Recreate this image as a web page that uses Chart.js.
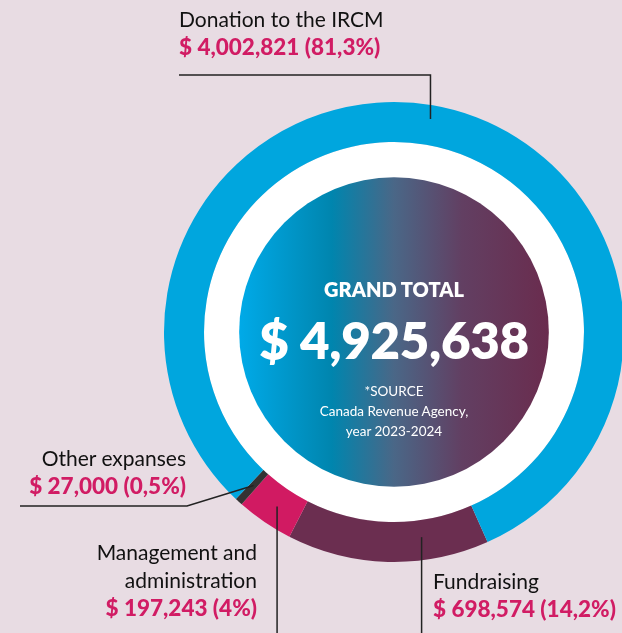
<!DOCTYPE html>
<html>
<head>
<meta charset="utf-8">
<script src="https://cdn.jsdelivr.net/npm/chart.js@4.4.1/dist/chart.umd.min.js"></script>
<style>
  html, body { margin: 0; padding: 0; background: #e8dce3; overflow: hidden; }
  #wrap { position: relative; width: 622px; height: 633px; overflow: hidden; font-family: "Lato", "Open Sans", sans-serif; }
  canvas { position: absolute; left: 0; top: 0; }
  .lbl { position: absolute; color: #111; font-size: 21px; line-height: 28px; white-space: nowrap; }
  .lbl .amt { color: #d11c64; font-weight: 900; font-size: 22.5px; }
  .right { text-align: right; }
  #center { position: absolute; left: 244px; width: 300px; top: 276px; text-align: center; color: #fff; }
  #center .title { font-weight: 800; font-size: 20px; line-height: 26px; }
  #center .total { font-weight: 800; font-size: 51px; line-height: 62px; margin-top: 7px; letter-spacing: -0.3px; }
  #center .src { font-size: 13.5px; line-height: 20px; margin-top: 10px; }
</style>
</head>
<body>
<div id="wrap">
  <canvas id="donut" width="640" height="633"></canvas>
  <div id="labels"></div>
  <div id="center">
    <div class="title">GRAND TOTAL</div>
    <div class="total" id="grand"></div>
    <div class="src">*SOURCE<br>Canada Revenue Agency,<br>year 2023-2024</div>
  </div>
</div>
<script>
// Expense breakdown, 2023-2024
const categories = ['Fundraising', 'Management and administration', 'Other expanses', 'Donation to the IRCM'];
const amounts = [698574, 197243, 27000, 4002821];
const shares = ['14,2%', '4%', '0,5%', '81,3%'];

const sliceColors = ['#6b2e50', '#d11a62', '#333333', '#00a6de'];

const fmt = n => n.toLocaleString('en-US');
const total = amounts.reduce((a, b) => a + b, 0);
document.getElementById('grand').textContent = '$ ' + fmt(total);

// label boxes: left/top or right/top, and how the title wraps
const labelBoxes = [
    { i: 0, style: 'left:433px;top:567px;', lines: ['Fundraising'] },
    { i: 1, style: 'right:365px;top:538px;', cls: 'right', lines: ['Management and', 'administration'] },
    { i: 2, style: 'right:436px;top:444px;', cls: 'right', lines: ['Other expanses'] },
    { i: 3, style: 'left:179px;top:5px;', lines: ['Donation to the IRCM'] }
];
document.getElementById('labels').innerHTML = labelBoxes.map(b =>
    `<div class="lbl ${b.cls || ''}" style="${b.style}">${b.lines.join('<br>')}<br>` +
    `<span class="amt">$ ${fmt(amounts[b.i])} (${shares[b.i]})</span></div>`
).join('');

// inner white ring + gradient disc
const centerDisc = {
    id: 'centerDisc',
    beforeDatasetsDraw(chart) {
        const arc = chart.getDatasetMeta(0).data[0];
        const { x, y, innerRadius } = arc.getProps(['x', 'y', 'innerRadius'], true);
        const ctx = chart.ctx;
        ctx.save();
        ctx.fillStyle = '#ffffff';
        ctx.beginPath();
        ctx.arc(x, y, innerRadius, 0, Math.PI * 2);
        ctx.fill();
        const r = innerRadius * 0.815;
        const g = ctx.createLinearGradient(x - r, 0, x + r, 0);
        g.addColorStop(0, '#00aae8');
        g.addColorStop(0.3, '#0085ae');
        g.addColorStop(0.5, '#4a6787');
        g.addColorStop(0.72, '#623f62');
        g.addColorStop(1, '#6a2c4e');
        ctx.fillStyle = g;
        ctx.beginPath();
        ctx.arc(x, y, r, 0, Math.PI * 2);
        ctx.fill();
        ctx.restore();
    }
};

// leader lines from each slice out to its label
const leaders = [
    { i: 0, frac: 0.32, r: 207, path: a => [[a.x, a.y], [a.x, 640]] },
    { i: 1, frac: 0.47, r: 210, path: a => [[a.x, a.y], [a.x, 640]] },
    { i: 2, frac: 0.5, r: 208, path: a => [[a.x, a.y], [187, 506], [20, 506]] },
    { i: 3, frac: 0.5, r: 216, path: a => [[a.x, a.y], [a.x, 75], [179, 75]] }
];
const leaderLines = {
    id: 'leaderLines',
    afterDatasetsDraw(chart) {
        const meta = chart.getDatasetMeta(0);
        const ctx = chart.ctx;
        ctx.save();
        ctx.strokeStyle = '#222';
        ctx.lineWidth = 1.5;
        leaders.forEach(l => {
            const p = meta.data[l.i].getProps(['x', 'y', 'startAngle', 'endAngle'], true);
            const ang = p.startAngle + l.frac * (p.endAngle - p.startAngle);
            const anchor = { x: p.x + l.r * Math.cos(ang), y: p.y + l.r * Math.sin(ang) };
            const pts = l.path(anchor);
            ctx.beginPath();
            ctx.moveTo(pts[0][0], pts[0][1]);
            pts.slice(1).forEach(q => ctx.lineTo(q[0], q[1]));
            ctx.stroke();
        });
        ctx.restore();
    }
};

new Chart(document.getElementById('donut'), {
    type: 'doughnut',
    data: {
        labels: categories,
        datasets: [{ data: amounts, backgroundColor: sliceColors, borderWidth: 0 }]
    },
    options: {
        responsive: false,
        animation: false,
        rotation: 156,
        cutout: '82.6%',
        layout: { padding: { left: 164, right: 16, top: 102, bottom: 71 } },
        events: [],
        plugins: { legend: { display: false }, tooltip: { enabled: false } }
    },
    plugins: [centerDisc, leaderLines]
});
</script>
</body>
</html>
